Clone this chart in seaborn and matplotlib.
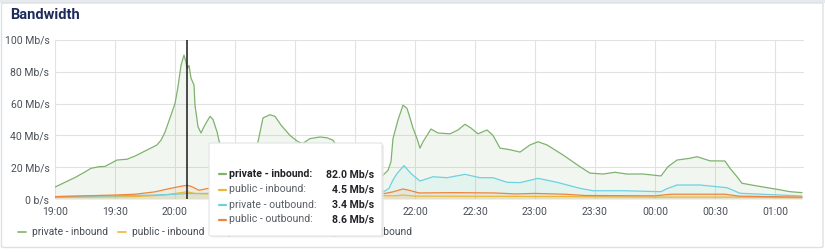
import matplotlib
matplotlib.use("Agg")
import matplotlib.pyplot as plt
import seaborn as sns
import pandas as pd
from matplotlib.patches import FancyBboxPatch, Rectangle
from matplotlib.lines import Line2D

# ---- data (minutes after 19:00, Mb/s) ----
priv_in_t = [0, 5, 10, 15, 18, 22, 25, 28, 31, 36, 40, 46, 51, 53, 55, 57.5, 60, 61.5, 63, 64.5,
             65.5, 66, 67, 68, 69.5, 70, 71.5, 73, 74.5, 77.5, 79, 81, 82.5, 88, 95, 99, 101.5,
             104, 107.5, 110, 113, 117.5, 121.5, 124, 127.5, 132.5, 136, 139, 141, 145, 150, 155,
             160, 164, 166.5, 168, 169, 171.5, 174, 176, 177.5, 179, 181, 182.5, 184, 188, 191.5,
             197.5, 201.5, 205, 208, 211.5, 216, 219, 222.5, 227.5, 232.5, 237.5, 241.5, 246, 254,
             262.5, 267.5, 274, 280, 286, 294, 303, 306.5, 311, 317.5, 321, 327.5, 335, 337.5, 341,
             343.5, 351, 361, 367.5, 373.5]
priv_in_v = [7.5, 10.5, 13.5, 17, 19.3, 20.3, 20.5, 22.5, 24.5, 25, 27, 30.8, 34, 37, 42, 51, 60, 70.6, 84, 90.5,
             86, 82, 84, 76, 71.7, 59, 45.5, 41.5, 45.5, 52, 50, 42.3, 34, 25, 20, 24, 36,
             51, 53, 52, 46.5, 40, 36, 35, 38, 39, 38.5, 37, 33, 25, 18, 15,
             14, 15, 18, 23.5, 38, 49.7, 59, 57, 51, 44.6, 38, 32, 36, 44, 41.5,
             41, 43.4, 47, 44.6, 41, 43.4, 40, 32, 31, 29.5, 34, 36, 34, 27.7,
             20.3, 16.3, 15.7, 16.8, 15.7, 15.7, 14.5, 20.3, 24.5, 25.6, 26.6, 24, 23.9, 19.3, 14,
             9.9, 8.2, 6.1, 4.6, 4]

pub_in_t = [0, 40, 55, 63, 66, 70, 80, 120, 170, 174, 180, 240, 300, 340, 373.5]
pub_in_v = [1, 1.5, 2.5, 4, 4.5, 3.5, 3, 2.5, 2, 2.5, 1.8, 1.6, 1.2, 1.2, 0.8]

priv_out_t = [0, 30, 50, 60, 66, 75, 90, 120, 150, 165, 167, 169, 171, 174.5, 178, 182.5, 189, 196,
              205, 212.5, 219, 226, 232.5, 241.5, 251, 262.5, 269, 284, 303, 306, 311, 322.5, 336,
              339, 342.5, 373.5]
priv_out_v = [1.5, 2, 2.5, 3, 3.4, 3.5, 4, 4.5, 4.5, 5, 6.7, 12, 16, 21, 16, 11.3, 14, 13.4,
              15.5, 13.4, 13.4, 10.5, 10.3, 13, 10.5, 6.7, 5.2, 5.2, 4.6, 6.5, 8.8, 8.8, 7.1,
              5.5, 3.6, 1.9]

pub_out_t = [0, 30, 40, 50, 57, 63, 66, 68, 72, 76, 80, 85, 100, 140, 165, 169, 174, 177, 182,
             200, 220, 230, 240, 255, 265, 300, 308, 335, 342, 373.5]
pub_out_v = [1.5, 2.5, 3, 4.5, 6.5, 8, 8.6, 8, 5.5, 6.5, 7, 6, 4.5, 4, 3.5, 4.5, 6.3, 5.5, 3.8,
             4, 3.8, 3.2, 3.5, 3, 2.2, 2, 3, 3, 1.8, 1.2]

series_names = ["private - inbound", "public - inbound", "private - outbound", "public - outbound"]
series_colors = ["#7EB26D", "#EAB839", "#6ED0E0", "#EF843C"]
tooltip_values = ["82.0 Mb/s", "4.5 Mb/s", "3.4 Mb/s", "8.6 Mb/s"]
cursor_t = 66

x_ticks = [0, 30, 60, 90, 120, 150, 180, 210, 240, 270, 300, 330, 360]
x_labels = ["19:00", "19:30", "20:00", "20:30", "21:00", "21:30", "22:00", "22:30", "23:00",
            "23:30", "00:00", "00:30", "01:00"]
y_ticks = [0, 20, 40, 60, 80, 100]
y_labels = ["0 b/s", "20 Mb/s", "40 Mb/s", "60 Mb/s", "80 Mb/s", "100 Mb/s"]

# ---- figure ----
sns.set_style("white")
plt.rcParams["font.family"] = ["Roboto", "DejaVu Sans"]
W, H = 825, 252
fig = plt.figure(figsize=(W / 100, H / 100), dpi=100)
fig.patch.set_facecolor("white")

def fx(px):
    return px / W

def fy(py):
    return 1 - py / H

# panel frame
fig.add_artist(Rectangle((0, fy(3)), 1, 3 / H, transform=fig.transFigure,
                         facecolor="#e6e9ee", edgecolor="none", zorder=0))
fig.add_artist(FancyBboxPatch((fx(1.5), fy(247.5)), fx(821.5), (244.5) / H,
                              boxstyle="round,pad=0,rounding_size=0.004",
                              transform=fig.transFigure, facecolor="none",
                              edgecolor="#dde1e6", lw=1.0, zorder=1))
fig.text(fx(10), fy(15), "Bandwidth", fontsize=10.5, fontweight="bold",
         color="#1d2b5a", va="center", ha="left")

ax = fig.add_axes([fx(55), fy(199), fx(804 - 55), (199 - 40) / H])
ax.set_facecolor("none")

data = [(priv_in_t, priv_in_v), (pub_in_t, pub_in_v), (priv_out_t, priv_out_v), (pub_out_t, pub_out_v)]
for (t, v), name, col in zip(data, series_names, series_colors):
    df = pd.DataFrame({"t": t, "v": v})
    ax.fill_between(df["t"], 0, df["v"], color=col, alpha=0.1, lw=0)
    sns.lineplot(data=df, x="t", y="v", ax=ax, color=col, lw=0.9, legend=False)

ax.axvline(cursor_t, color="#1a1a1a", lw=1.1, zorder=5)

ax.set_xlim(0, 374.5)
ax.set_ylim(0, 100)
ax.set_xticks(x_ticks)
ax.set_xticklabels(x_labels)
ax.set_yticks(y_ticks)
ax.set_yticklabels(y_labels)
ax.set_xlabel("")
ax.set_ylabel("")
ax.grid(True, color="#e2e2e2", lw=0.8)
ax.set_axisbelow(True)
for s in ax.spines.values():
    s.set_visible(False)
ax.tick_params(axis="both", length=0, labelsize=7.5, labelcolor="#4a4f57")
ax.tick_params(axis="x", pad=6)
ax.tick_params(axis="y", pad=4)

# legend at bottom (partly covered by the tooltip, as in the source)
legend_dash_x = [18, 118, 214, 319]
legend_text_x = [32, 132, 228, 333]
for dx, tx, name, col in zip(legend_dash_x, legend_text_x, series_names, series_colors):
    fig.add_artist(Line2D([fx(dx), fx(dx + 8)], [fy(232), fy(232)], color=col, lw=1.2,
                          transform=fig.transFigure))
    fig.text(fx(tx), fy(232), name, fontsize=7.4, color="#464c54", va="center", ha="left")

# tooltip
fig.add_artist(FancyBboxPatch((fx(211), fy(237.5)), fx(173), 93 / H,
                              boxstyle="round,pad=0,rounding_size=0.003",
                              transform=fig.transFigure, facecolor="#e4e4e4",
                              edgecolor="none", zorder=9, alpha=0.6))
fig.add_artist(FancyBboxPatch((fx(209), fy(236)), fx(173), 93 / H,
                              boxstyle="round,pad=0,rounding_size=0.003",
                              transform=fig.transFigure, facecolor="white",
                              edgecolor="#e2e4e8", lw=0.8, zorder=10))
rows_y = [174, 189.5, 204.5, 219.5]
for i, (ry, name, col, val) in enumerate(zip(rows_y, series_names, series_colors, tooltip_values)):
    fig.add_artist(Line2D([fx(219), fx(226)], [fy(ry), fy(ry)], color=col, lw=1.6,
                          transform=fig.transFigure, zorder=11))
    fw = "bold" if i == 0 else "normal"
    tc = "#202226" if i == 0 else "#5a5f66"
    fig.text(fx(229), fy(ry), name + ":", fontsize=7.6, fontweight=fw, color=tc,
             va="center", ha="left", zorder=11)
    fig.text(fx(374), fy(ry), val, fontsize=7.6, fontweight="bold", color="#202226",
             va="center", ha="right", zorder=11)

fig.savefig("out.png", dpi=100, facecolor="white")
